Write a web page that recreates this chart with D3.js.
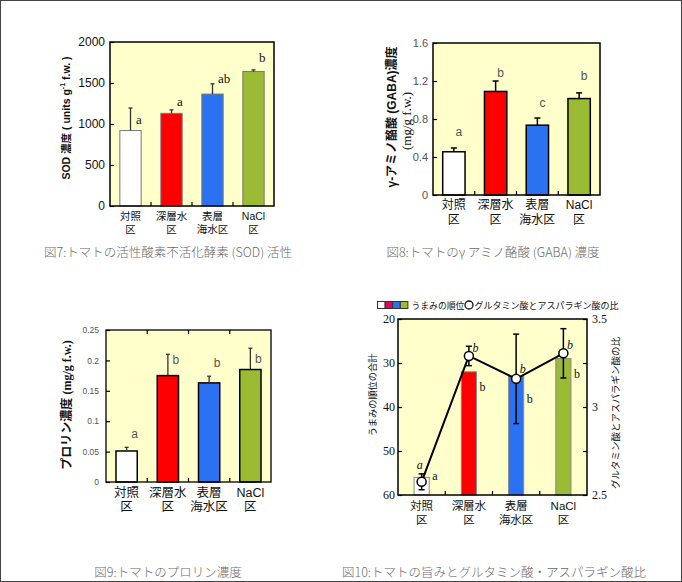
<!DOCTYPE html>
<html><head><meta charset="utf-8">
<script src="https://cdn.jsdelivr.net/npm/d3@7"></script>
<style>body{margin:0;background:#fff}svg{display:block}</style>
</head><body><svg id="c" width="682" height="582"></svg>
<script>
// ---------- data ----------
const categories = [["対照","区"],["深層水","区"],["表層","海水区"],["NaCl","区"]];
const barColors = ["#ffffff","#ff0000","#2b72f2","#9bbb35"];

const sodValues  = [920, 1130, 1365, 1640];
const sodErrors  = [275, 42, 125, 20];
const sodLetters = ["a","a","ab","b"];
const sodLetterY = [1050, 1280, 1550, 1815];
const sodTicks   = [0, 500, 1000, 1500, 2000];

const gabaValues  = [0.455, 1.09, 0.735, 1.015];
const gabaErrors  = [0.04, 0.11, 0.075, 0.06];
const gabaLetters = ["a","b","c","b"];
const gabaLetterY = [0.665, 1.28, 0.965, 1.255];
const gabaTicks   = [0, 0.4, 0.8, 1.2, 1.6];

const proValues  = [0.051, 0.175, 0.163, 0.185];
const proErrors  = [0.006, 0.035, 0.011, 0.035];
const proLetters = ["a","b","b","b"];
const proLetterY = [0.079, 0.201, 0.196, 0.203];
const proTicks   = [0, 0.05, 0.1, 0.15, 0.2, 0.25];

const rankValues  = [56, 32, 33, 29];
const rankLetters = ["a","b","b","b"];
const rankLetterY = [55.7, 35.5, 38.1, 32.4];
const rankTicks   = [20, 30, 40, 50, 60];

const ratioValues  = [2.575, 3.29, 3.16, 3.305];
const ratioErrors  = [0.045, 0.055, 0.254, 0.14];
const ratioLetters = ["a","b","b","b"];
const ratioLetterY = [2.668, 3.337, 3.214, 3.355];
const ratioTicks   = [2.5, 2.75, 3, 3.25, 3.5];
const ratioLabeled = [2.5, 3, 3.5];

const captions = [
  "図7:トマトの活性酸素不活化酵素 (SOD) 活性",
  "図8:トマトのγ アミノ酪酸 (GABA) 濃度",
  "図9:トマトのプロリン濃度",
  "図10:トマトの旨みとグルタミン酸・アスパラギン酸比"
];

// ---------- drawing ----------
const SANS = "'Liberation Sans', Arial, 'Noto Sans CJK JP', sans-serif";
const SERIF = "'Liberation Serif', 'Times New Roman', 'Noto Sans CJK JP', serif";
const CJK = "'Noto Sans CJK JP', 'Liberation Sans', sans-serif";
const svg = d3.select("#c");

svg.append("rect").attr("x",0.5).attr("y",0.5).attr("width",681).attr("height",581)
  .attr("fill","#fff").attr("stroke","#444").attr("stroke-width",1);

function panel(o){
  const g = svg.append("g");
  const idx = d3.range(categories.length);
  const x = d3.scaleBand().domain(idx).range([o.left, o.right])
    .paddingInner(o.pad).paddingOuter(o.pad/2);
  const y = d3.scaleLinear().domain(o.domain).range([o.bottom, o.top]);
  g.append("rect").attr("x",o.left).attr("y",o.top)
    .attr("width",o.right-o.left).attr("height",o.bottom-o.top)
    .attr("fill","#ffffcc");
  const off = (x.step()-x.bandwidth())/2;
  idx.slice(1).forEach(i=>{
    const bx = x(i)-off;
    g.append("line").attr("x1",bx).attr("x2",bx).attr("y1",o.bottom).attr("y2",o.bottom-4)
      .attr("stroke","#000").attr("stroke-width",1.2);
    if(o.topTicks) g.append("line").attr("x1",bx).attr("x2",bx).attr("y1",o.top).attr("y2",o.top+4)
      .attr("stroke","#000").attr("stroke-width",1.2);
  });
  const ax = g.append("g").attr("transform",`translate(${o.left},0)`)
    .call(d3.axisLeft(y).tickValues(o.ticks).tickSizeInner(-4).tickSizeOuter(0)
      .tickPadding(o.tickPad).tickFormat(o.fmt || (d=>d)));
  ax.select(".domain").remove();
  ax.selectAll("line").attr("stroke","#000").attr("stroke-width",1.2);
  ax.selectAll("text").attr("font-family",o.tickFont).attr("font-size",o.tickSize)
    .attr("fill",o.tickColor);
  const bw = x.bandwidth();
  g.selectAll(".bar").data(o.values).enter().append("rect")
    .attr("x",(d,i)=>x(i)).attr("width",bw)
    .attr("y",d=>y(d)).attr("height",d=>o.bottom-y(d))
    .attr("fill",(d,i)=>barColors[i]).attr("stroke",o.barStroke).attr("stroke-width",o.barStrokeW);
  if(o.errors){
    o.values.forEach((v,i)=>{
      const cx = x(i)+bw/2, yt = y(v+o.errors[i]);
      g.append("line").attr("x1",cx).attr("x2",cx).attr("y1",y(v)).attr("y2",yt)
        .attr("stroke",o.errColor).attr("stroke-width",o.errW);
      g.append("line").attr("x1",cx-o.cap/2).attr("x2",cx+o.cap/2).attr("y1",yt).attr("y2",yt)
        .attr("stroke",o.errColor).attr("stroke-width",o.errW);
    });
  }
  o.letters.forEach((t,i)=>{
    g.append("text").attr("x",x(i)+bw/2+o.letterDx).attr("y",y(o.letterY[i]))
      .attr("dominant-baseline","central").attr("text-anchor",o.letterAnchor)
      .attr("font-family",o.letterFont).attr("font-size",o.letterSize).attr("fill",o.letterColor)
      .text(t);
  });
  g.append("rect").attr("x",o.left).attr("y",o.top)
    .attr("width",o.right-o.left).attr("height",o.bottom-o.top)
    .attr("fill","none").attr("stroke","#000").attr("stroke-width",o.frameW);
  categories.forEach((c,i)=>{
    c.forEach((line,k)=>{
      g.append("text").attr("x",x(i)+bw/2).attr("y",k===0?o.cat1:o.cat2)
        .attr("text-anchor","middle").attr("dominant-baseline","central")
        .attr("font-family",SANS).attr("font-size",o.catSize).attr("fill","#111").text(line);
    });
  });
  return {g,x,y};
}

// Panel 1: SOD
panel({left:110,top:42,right:274,bottom:206,pad:0.48,domain:[0,2000],ticks:sodTicks,
  tickPad:5,tickFont:SANS,tickSize:12,tickColor:"#111",
  values:sodValues,errors:sodErrors,errColor:"#333",errW:1.3,cap:4,
  barStroke:"#777",barStrokeW:1,
  letters:sodLetters,letterY:sodLetterY,letterDx:5.5,letterAnchor:"start",letterFont:SERIF,letterSize:13,letterColor:"#111",
  frameW:1.5,cat1:216,cat2:228.5,catSize:10.5});
{
  const t = svg.append("text").attr("transform","translate(66,118) rotate(-90)")
    .attr("text-anchor","middle").attr("dominant-baseline","central")
    .attr("font-family",SANS).attr("font-weight","bold").attr("font-size",10.5).attr("fill","#111");
  t.append("tspan").text("SOD 濃度 ( units g");
  t.append("tspan").attr("dy",-4).attr("font-size",7).text("-1");
  t.append("tspan").attr("dy",4).text(" f.w. )");
}

// Panel 2: GABA
panel({left:433,top:43,right:600,bottom:195,pad:0.465,domain:[0,1.6],ticks:gabaTicks,
  tickPad:5,tickFont:SANS,tickSize:11,tickColor:"#555",fmt:d=>d,
  values:gabaValues,errors:gabaErrors,errColor:"#000",errW:1.5,cap:6,
  barStroke:"#000",barStrokeW:1.5,
  letters:gabaLetters,letterY:gabaLetterY,letterDx:5,letterAnchor:"middle",letterFont:SANS,letterSize:12,letterColor:"#555",
  frameW:1.5,cat1:205,cat2:220,catSize:12});
svg.append("text").attr("transform","translate(392,117) rotate(-90)")
  .attr("text-anchor","middle").attr("dominant-baseline","central")
  .attr("font-family",SANS).attr("font-weight","bold").attr("font-size",12).attr("fill","#111")
  .text("γ-アミノ酪酸 (GABA)濃度");
svg.append("text").attr("transform","translate(406,121) rotate(-90)")
  .attr("text-anchor","middle").attr("dominant-baseline","central")
  .attr("font-family",SERIF).attr("font-size",13).attr("fill","#111")
  .text("(mg/g f.w.)");

// Panel 3: Proline
panel({left:106,top:330,right:271,bottom:482,pad:0.485,domain:[0,0.25],ticks:proTicks,
  tickPad:7,tickFont:SANS,tickSize:8.5,tickColor:"#555",fmt:d=>d,topTicks:true,
  values:proValues,errors:proErrors,errColor:"#333",errW:1.3,cap:4,
  barStroke:"#000",barStrokeW:1.5,
  letters:proLetters,letterY:proLetterY,letterDx:8,letterAnchor:"middle",letterFont:SANS,letterSize:12,letterColor:"#555",
  frameW:1.3,cat1:492.5,cat2:507,catSize:12.5});
{
  const t = svg.append("text").attr("transform","translate(67,405) rotate(-90)")
    .attr("text-anchor","middle").attr("dominant-baseline","central")
    .attr("font-size",12).attr("fill","#111");
  t.append("tspan").attr("font-family",SANS).attr("font-weight","bold").text("プロリン濃度 ");
  t.append("tspan").attr("font-family",SERIF).attr("font-weight","bold").text("(mg/g f.w.)");
}

// Panel 4: Umami rank + ratio
const p4 = panel({left:398,top:319,right:587,bottom:495,pad:0.68,domain:[60,20],ticks:rankTicks,
  tickPad:3,tickFont:SERIF,tickSize:12,tickColor:"#111",
  values:rankValues,errors:null,
  barStroke:"#888",barStrokeW:1,
  letters:rankLetters,letterY:rankLetterY,letterDx:10.5,letterAnchor:"start",letterFont:SERIF,letterSize:12,letterColor:"#111",
  frameW:1.5,cat1:506,cat2:520,catSize:11.5});
{
  const g = p4.g, x = p4.x, bw = x.bandwidth();
  const y2 = d3.scaleLinear().domain([2.5,3.5]).range([495,319]);
  const ax = g.append("g").attr("transform","translate(587,0)")
    .call(d3.axisRight(y2).tickValues(ratioTicks).tickSizeInner(-4).tickSizeOuter(0).tickPadding(5)
      .tickFormat(d=>ratioLabeled.includes(d)?d:""));
  ax.select(".domain").remove();
  ax.selectAll("line").attr("stroke","#000").attr("stroke-width",1.2);
  ax.selectAll("text").attr("font-family",SERIF).attr("font-size",12).attr("fill","#111");
  const cx = i => x(i)+bw/2;
  ratioValues.forEach((v,i)=>{
    const e = ratioErrors[i];
    g.append("line").attr("x1",cx(i)).attr("x2",cx(i)).attr("y1",y2(v-e)).attr("y2",y2(v+e))
      .attr("stroke","#000").attr("stroke-width",1.5);
    [v-e,v+e].forEach(w=>g.append("line").attr("x1",cx(i)-3).attr("x2",cx(i)+3)
      .attr("y1",y2(w)).attr("y2",y2(w)).attr("stroke","#000").attr("stroke-width",1.5));
  });
  g.append("path").datum(ratioValues)
    .attr("d",d3.line().x((d,i)=>cx(i)).y(d=>y2(d)))
    .attr("fill","none").attr("stroke","#000").attr("stroke-width",2);
  g.selectAll(".pt").data(ratioValues).enter().append("circle")
    .attr("cx",(d,i)=>cx(i)).attr("cy",d=>y2(d)).attr("r",4.5)
    .attr("fill","#fff").attr("stroke","#000").attr("stroke-width",1.5);
  ratioLetters.forEach((t,i)=>{
    g.append("text").attr("x",cx(i)+(i===0?-2:6.5)).attr("y",y2(ratioLetterY[i]))
      .attr("text-anchor","middle").attr("dominant-baseline","central")
      .attr("font-family",SERIF).attr("font-style","italic").attr("font-size",12).attr("fill","#111").text(t);
  });
  svg.append("text").attr("transform","translate(372,395) rotate(-90)")
    .attr("text-anchor","middle").attr("dominant-baseline","central")
    .attr("font-family",CJK).attr("font-size",9.2).attr("fill","#111").text("うまみの順位の合計");
  svg.append("text").attr("transform","translate(615,413) rotate(-90)")
    .attr("text-anchor","middle").attr("dominant-baseline","central")
    .attr("font-family",CJK).attr("font-size",9.5).attr("fill","#111").text("グルタミン酸とアスパラギン酸の比");
  const lg = svg.append("g");
  const legColors = ["#ffffff","#e6005a","#2b72f2","#9bbb35"];
  legColors.forEach((c,i)=>lg.append("rect").attr("x",377.5+i*7.6).attr("y",301.5).attr("width",7.6).attr("height",7)
    .attr("fill",c).attr("stroke","#333").attr("stroke-width",1));
  lg.append("text").attr("x",411.5).attr("y",305).attr("dominant-baseline","central")
    .attr("font-family",CJK).attr("font-size",8.8).attr("fill","#111").text("うまみの順位");
  lg.append("circle").attr("cx",469).attr("cy",305).attr("r",4).attr("fill","#fff").attr("stroke","#111").attr("stroke-width",1.3);
  lg.append("text").attr("x",474.5).attr("y",305).attr("dominant-baseline","central")
    .attr("font-family",CJK).attr("font-size",9).attr("fill","#111").text("グルタミン酸とアスパラギン酸の比");
}

// captions
const capPos = [[168,251],[493,251],[168,571],[494,571]];
captions.forEach((c,i)=>{
  svg.append("text").attr("x",capPos[i][0]).attr("y",capPos[i][1])
    .attr("text-anchor","middle").attr("dominant-baseline","central")
    .attr("font-family",CJK).attr("font-weight",300).attr("font-size",12.5).attr("fill","#6a6a6a").text(c);
});
</script></body></html>
